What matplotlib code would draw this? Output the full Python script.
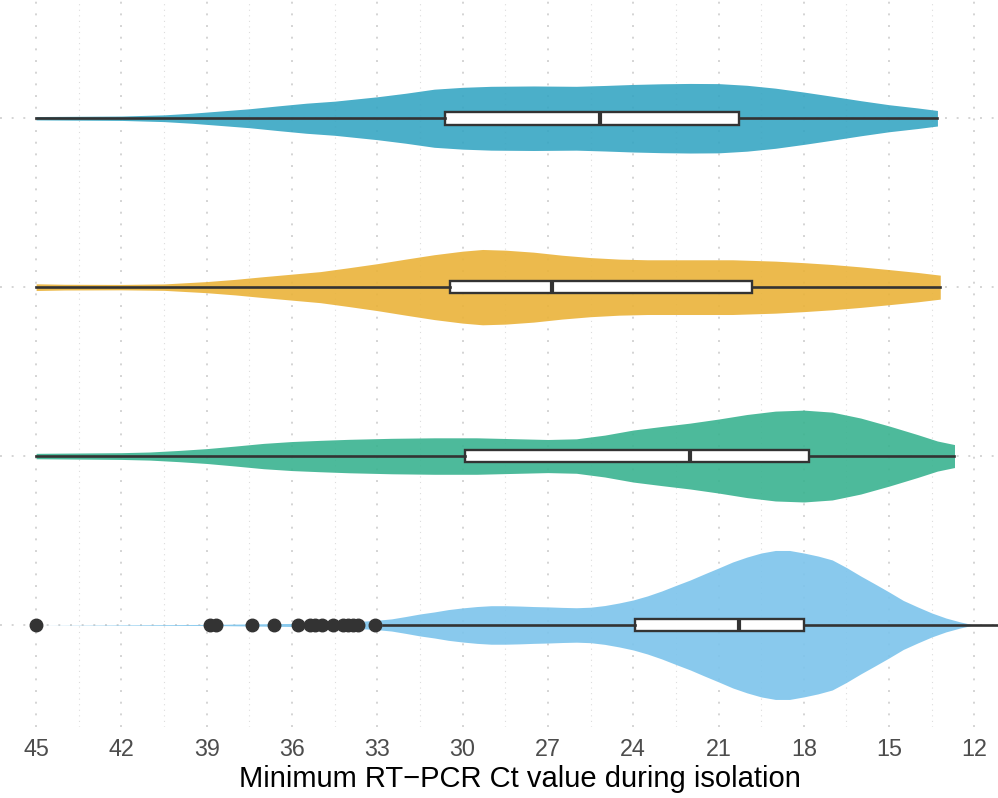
import numpy as np
import matplotlib.pyplot as plt

plt.rcParams['font.family'] = ['Liberation Sans', 'DejaVu Sans']

# violin outlines: Ct value and half width (in category units)
ct_a = [45.0, 42.0, 40.5, 39.5, 38.5, 37.5, 36.5, 35.5, 34.5, 33.0, 32.0, 31.0, 30.0,
        29.0, 27.5, 26.0, 25.0, 24.0, 23.0, 22.0, 21.0, 20.0, 19.0, 18.0, 17.0, 16.0,
        15.0, 14.0, 13.3]
hw_a = [0.010, 0.013, 0.020, 0.030, 0.043, 0.056, 0.073, 0.089, 0.101, 0.127, 0.148,
        0.172, 0.183, 0.189, 0.191, 0.189, 0.194, 0.200, 0.204, 0.206, 0.205, 0.195,
        0.178, 0.155, 0.130, 0.104, 0.080, 0.061, 0.046]

ct_b = [45.0, 44.0, 42.0, 40.5, 39.0, 38.0, 37.0, 36.0, 35.0, 34.0, 33.0, 32.0, 31.0,
        30.0, 29.3, 28.5, 27.5, 26.5, 25.5, 24.5, 23.5, 22.0, 20.5, 19.0, 18.0, 17.0,
        16.0, 15.0, 14.0, 13.2]
hw_b = [0.020, 0.017, 0.016, 0.019, 0.033, 0.046, 0.062, 0.077, 0.092, 0.115, 0.139,
        0.166, 0.192, 0.213, 0.223, 0.219, 0.207, 0.189, 0.175, 0.166, 0.162, 0.162,
        0.162, 0.154, 0.145, 0.134, 0.120, 0.104, 0.087, 0.071]

ct_c = [45.0, 43.5, 42.0, 41.0, 40.0, 39.0, 38.0, 37.0, 36.0, 35.0, 34.0, 32.5, 31.0,
        29.5, 28.0, 27.0, 26.0, 25.0, 24.0, 23.0, 22.0, 21.0, 20.0, 19.0, 18.0, 17.0,
        16.0, 15.0, 14.0, 13.3, 12.7]
hw_c = [0.016, 0.018, 0.020, 0.024, 0.033, 0.044, 0.059, 0.075, 0.086, 0.093, 0.099,
        0.105, 0.108, 0.108, 0.102, 0.098, 0.102, 0.124, 0.154, 0.175, 0.195, 0.219,
        0.246, 0.266, 0.272, 0.260, 0.225, 0.178, 0.127, 0.089, 0.068]

ct_d = [45.0, 39.0, 37.5, 36.0, 34.5, 34.0, 33.0, 32.5, 32.0, 31.5, 31.0, 30.5, 30.0,
        29.5, 29.0, 28.5, 28.0, 27.5, 27.0, 26.5, 26.0, 25.5, 25.0, 24.5, 24.0, 23.5,
        23.0, 22.5, 22.0, 21.5, 21.0, 20.5, 20.0, 19.5, 19.0, 18.5, 18.0, 17.5, 17.0,
        16.5, 16.0, 15.5, 15.0, 14.5, 14.0, 13.5, 13.0, 12.5, 12.1]
hw_d = [0.000, 0.003, 0.006, 0.009, 0.015, 0.017, 0.028, 0.036, 0.050, 0.065, 0.077,
        0.091, 0.101, 0.109, 0.114, 0.114, 0.112, 0.109, 0.107, 0.104, 0.102, 0.105,
        0.115, 0.130, 0.148, 0.172, 0.201, 0.234, 0.266, 0.302, 0.337, 0.373, 0.402,
        0.426, 0.441, 0.441, 0.426, 0.408, 0.385, 0.340, 0.290, 0.243, 0.195, 0.145,
        0.107, 0.071, 0.041, 0.018, 0.003]

# box stats: q1 (high Ct), median, q3 (low Ct), whisker ends
q_hi = [30.62, 30.44, 29.93, 23.94]
medians = [25.17, 26.87, 22.00, 20.28]
q_lo = [20.28, 19.82, 17.82, 18.00]
whisk_hi = [45.0, 45.0, 45.0, 32.80]
whisk_lo = [13.30, 13.20, 12.70, 11.00]
outliers_d = [45.0, 38.9, 38.67, 37.4, 36.63, 35.79, 35.37, 35.19, 34.94, 34.56,
              34.2, 34.03, 33.85, 33.68, 33.08]

positions = [4, 3, 2, 1]
colors = ['#37A6C3', '#EAB33A', '#3AB390', '#7CC4EC']


def main():
    fig = plt.figure(figsize=(9.98, 7.98), dpi=100)
    ax = fig.add_axes([0, 0.089, 1, 0.911])

    # grid
    for v in np.arange(12, 46, 3):
        ax.axvline(v, color='#D4D4D4', lw=1.4, ls=(0, (1, 5)), zorder=0)
    for v in np.arange(13.5, 46, 3):
        ax.axvline(v, color='#DCDCDC', lw=0.8, ls=(0, (1, 4)), zorder=0)
    for p in positions:
        ax.axhline(p, color='#D4D4D4', lw=1.4, ls=(0, (1, 5)), zorder=0)

    violins = [(ct_a, hw_a), (ct_b, hw_b), (ct_c, hw_c), (ct_d, hw_d)]
    for (ct, hw), p, c in zip(violins, positions, colors):
        ct = np.array(ct)
        hw = np.array(hw)
        ax.fill_between(ct, p - hw, p + hw, color=c, alpha=0.9, lw=0, zorder=1)

    stats = []
    for i in range(4):
        stats.append({'med': medians[i], 'q1': q_lo[i], 'q3': q_hi[i],
                      'whislo': whisk_lo[i], 'whishi': whisk_hi[i],
                      'fliers': outliers_d if i == 3 else []})
    ax.bxp(stats, positions=positions, orientation='horizontal', widths=0.075,
           patch_artist=True, showcaps=False,
           boxprops=dict(facecolor='white', edgecolor='#333333', lw=1.7),
           whiskerprops=dict(color='#333333', lw=1.9),
           medianprops=dict(color='#333333', lw=3.0),
           flierprops=dict(marker='o', markerfacecolor='#333333', markeredgecolor='#333333',
                           markersize=9),
           zorder=3)

    ax.set_xlim(46.27, 11.17)
    ax.set_ylim(0.396, 4.70)
    ax.set_xticks(np.arange(45, 11, -3))
    ax.set_xticklabels([str(v) for v in range(45, 11, -3)])
    ax.set_yticks([])
    for s in ax.spines.values():
        s.set_visible(False)
    ax.tick_params(axis='x', length=0, pad=8, labelsize=16.8, labelcolor='#4D4D4D')
    ax.set_xlabel('Minimum RT\u2212PCR Ct value during isolation', fontsize=21,
                  color='black', labelpad=3, x=0.521)

    fig.savefig('out.png', dpi=100)


if __name__ == "__main__":
    main()
